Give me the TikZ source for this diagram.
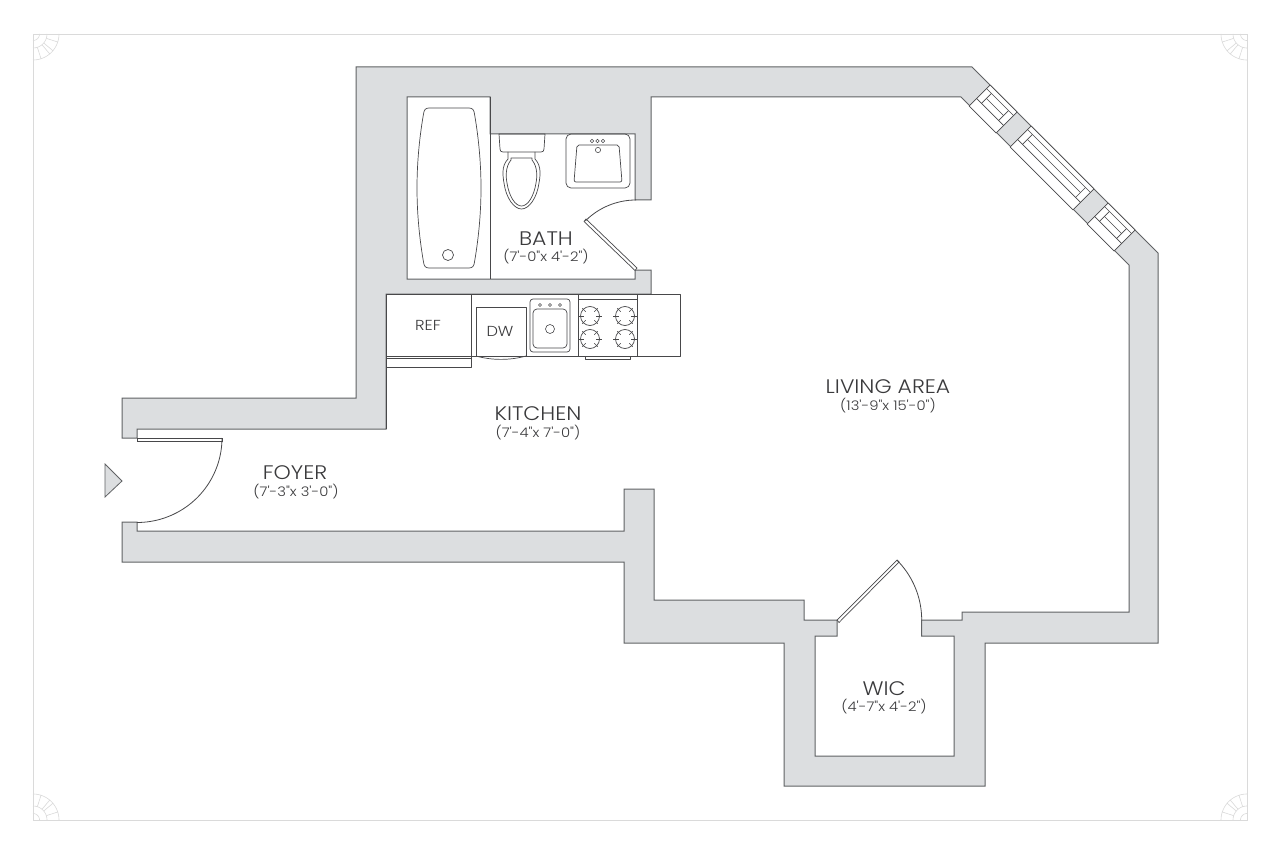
\documentclass[tikz,border=0pt]{standalone}
\usepackage{fontspec}
\newfontfamily\labelfont[FakeStretch=1.12]{Poppins Light}
\definecolor{wallgray}{HTML}{DCDEE0}
\definecolor{walledge}{HTML}{606264}
\definecolor{inkgray}{HTML}{48484A}
\definecolor{textgray}{HTML}{3A3A3C}
\definecolor{framegray}{HTML}{DADADA}
\tikzset{
  wall/.style={fill=wallgray,draw=walledge,line width=1pt,line join=miter},
  fixture/.style={draw=inkgray,line width=0.7pt,line join=round},
  thinline/.style={draw=inkgray,line width=0.6pt},
  leaf/.style={draw=inkgray,fill=white,line width=0.7pt},
  swing/.style={draw=inkgray,line width=0.8pt},
  roomname/.style={text=textgray,font=\labelfont\fontsize{19.6}{22}\selectfont,inner sep=0pt},
  roomsize/.style={text=textgray,font=\labelfont\fontsize{13.2}{15}\selectfont,inner sep=0pt},
  applabel/.style={text=textgray,font=\labelfont\fontsize{14.5}{16}\selectfont,inner sep=0pt},
  ornament/.style={draw=framegray,line width=0.6pt},
}
\newcommand{\burnerat}[2]{%
  \draw[fixture] (#1,#2) circle[radius=9.5];
  \foreach \a in {0,90,180,270}{\draw[thinline] ({#1+6*cos(\a+45)},{#2+6*sin(\a+45)}) -- ({#1+11*cos(\a+45)},{#2+11*sin(\a+45)});}
  \draw[thinline] (#1-12,#2) -- (#1-6,#2) (#1+6,#2) -- (#1+12,#2);
}
\newcommand{\windowat}[3]{%
  \begin{scope}[shift={(#1,#2)},x={(0.7071pt,-0.7071pt)},y={(-0.7071pt,-0.7071pt)}]
    \draw[fixture,fill=white] (0,0) -- (#3,0) -- (#3,29.7) -- (0,29.7) -- cycle;
    \draw[thinline] (0,5) -- (#3,5) (0,19) -- (#3,19);
    \draw[thinline] (7,5) -- (7,19) ({#3-7},5) -- ({#3-7},19);
    \draw[thinline] (7,12) -- ({#3-7},12);
  \end{scope}}
\begin{document}
\begin{tikzpicture}[x=1pt,y=-1pt]
\useasboundingbox (0,0) rectangle (1280,853);
\fill[white] (0,0) rectangle (1280,853);
% frame
\draw[ornament] (33,34) rectangle (1247,820);
\foreach \cx/\sx in {33/1,1247/-1}{
 \foreach \cy/\sy in {34/1,820/-1}{
  \begin{scope}[shift={(\cx,\cy)},xscale=\sx,yscale=\sy]
   \draw[ornament] plot[domain=0:90,samples=16] ({6.5*cos(\x)},{6.5*sin(\x)});
   \draw[ornament] plot[domain=0:90,samples=16] ({14*cos(\x)},{14*sin(\x)});
   \draw[ornament] plot[domain=0:90,samples=24] ({26*cos(\x)},{26*sin(\x)});
   \foreach \a in {18,40,50,72}{\draw[ornament] ({14*cos(\a)},{14*sin(\a)}) -- ({26*cos(\a)},{26*sin(\a)});}
  \end{scope}
 }
}
% walls
\draw[wall] (356,67) -- (972,67) -- (1158,253) -- (1158,643) -- (985,643) -- (985,786) -- (784,786) -- (784,643) -- (624,643) -- (624,562) -- (122,562) -- (122,522) -- (137,522) -- (137,531) -- (624,531) -- (624,489) -- (654,489) -- (654,600) -- (804,600) -- (804,620) -- (837,620) -- (837,636) -- (815,636) -- (815,756) -- (954,756) -- (954,636) -- (921.7,636) -- (921.7,620) -- (962,620) -- (962,612) -- (1129,612) -- (1129,265) -- (961,97) -- (651,97) -- (651,200) -- (635,200) -- (635,134) -- (490,134) -- (490,97) -- (407,97) -- (407,279) -- (635,279) -- (635,270) -- (651,270) -- (651,294) -- (386,294) -- (386,429) -- (137,429) -- (137,438) -- (122,438) -- (122,398) -- (356,398) -- cycle;
% windows
\windowat{990}{85}{38.2}
\windowat{1031}{126}{89}
\windowat{1108}{203}{38.2}
% entry marker
\draw[fill=wallgray,draw=walledge,line width=0.8pt] (105,464) -- (122,481) -- (105,497) -- cycle;
% entry door
\draw[leaf] (137,438) rectangle (222,441.5);
\draw[swing] plot[domain=0:90,samples=40] ({137+85*cos(\x)},{438+84.5*sin(\x)});
% bath door
\draw[leaf] (586,219) -- (637,268) -- (635,270.5) -- (584,221.5) -- cycle;
\draw[swing] plot[domain=-90:-135.5,samples=24] ({636+71*cos(\x)},{270+70*sin(\x)});
% WIC door
\draw[leaf] (837,620) -- (897,560) -- (899,562) -- (839,622.5) -- cycle;
\draw[swing] plot[domain=-45:0,samples=24] ({837+84.7*cos(\x)},{620+84.7*sin(\x)});
% bath fixtures
\draw[fixture] (490,97) -- (490,279);
\draw[fixture] (429,108) -- (469,108) .. controls (472.5,108) and (474,110) .. (474.5,114) .. controls (479,140) and (481,165) .. (481,188) .. controls (481,211) and (479,236) .. (474.5,262) .. controls (474,266) and (472.5,268) .. (469,268) -- (429,268) .. controls (425.5,268) and (424,266) .. (423.5,262) .. controls (419,236) and (417,211) .. (417,188) .. controls (417,165) and (419,140) .. (423.5,114) .. controls (424,110) and (425.5,108) .. (429,108) -- cycle;
\draw[fixture] (448,255) circle[radius=5.5];
% toilet
\draw[fixture] (499,134) -- (545,134) -- (544,149) .. controls (544,151) and (543,152) .. (541,152) -- (503,152) .. controls (501,152) and (500,151) .. (500,149) -- cycle;
\draw[fixture] (508,152) -- (508,159) .. controls (501,166) and (503,177) .. (504,183) .. controls (506,198) and (514,209) .. (521.5,209) .. controls (529,209) and (537,198) .. (539,183) .. controls (540,177) and (542,166) .. (535,159) -- (535,152);
\draw[fixture] (511,158) -- (532,158) -- (532,160) .. controls (538,167) and (537,178) .. (536,183) .. controls (534,196) and (528,206) .. (521.5,206) .. controls (515,206) and (509,196) .. (507,183) .. controls (506,178) and (505,167) .. (511,160) -- cycle;
% vanity
\draw[fixture,rounded corners=5pt] (566,134) rectangle (630,188);
\draw[fixture,rounded corners=2pt] (577,145) -- (619,145) -- (622,182) -- (574,182) -- cycle;
\foreach \dx in {592,597.5,603}{\draw[thinline] (\dx,141) circle[radius=1.7];}
\draw[thinline] (598,150) circle[radius=2.6];
% kitchen counter
\draw[fixture] (386,294) rectangle (680,356);
\draw[fixture] (386,429) -- (386,356);
\draw[fixture] (471,294) -- (471,367) -- (386,367);
\draw[fixture] (386,358.5) -- (471,358.5);
\draw[fixture] (476,356) -- (476,307) -- (526,307) -- (526,356);
\draw[fixture] (476,356) .. controls (492,360.5) and (510,360.5) .. (526,356);
% kitchen sink
\draw[fixture,rounded corners=3pt] (530,299) rectangle (570,352);
\draw[fixture,rounded corners=4pt] (533,309) rectangle (567,348);
\foreach \dx in {540,550,560}{\draw[thinline] (\dx,305) circle[radius=1.5];}
\draw[thinline] (550,329) circle[radius=4.5];
% stove
\draw[fixture] (578,294) rectangle (637,356);
\draw[fixture] (578,299) -- (637,299);
\draw[fixture] (585,356) -- (585,359.5) -- (630,359.5) -- (630,356);
\burnerat{590}{316}
\burnerat{625}{316}
\burnerat{590}{339}
\burnerat{625}{339}
% labels
\node[roomname] (bathname) at (546,239) {BATH};
\node[roomsize] (bathsize) at (546,256.5) {(7'-0"x 4'-2")};
\node[roomname] (foyername) at (295,473) {FOYER};
\node[roomsize] (foyersize) at (296,491.5) {(7'-3"x 3'-0")};
\node[roomname] (kitchenname) at (538,414) {KITCHEN};
\node[roomsize] (kitchensize) at (538,432.5) {(7'-4"x 7'-0")};
\node[roomname] (livingname) at (888,387) {LIVING AREA};
\node[roomsize] (livingsize) at (888,405.5) {(13'-9"x 15'-0")};
\node[roomname] (wicname) at (884,689) {WIC};
\node[roomsize] (wicsize) at (884,706.5) {(4'-7"x 4'-2")};
\node[applabel] (reflabel) at (428,325) {REF};
\node[applabel] (dwlabel) at (500,331) {DW};
\end{tikzpicture}
\end{document}
